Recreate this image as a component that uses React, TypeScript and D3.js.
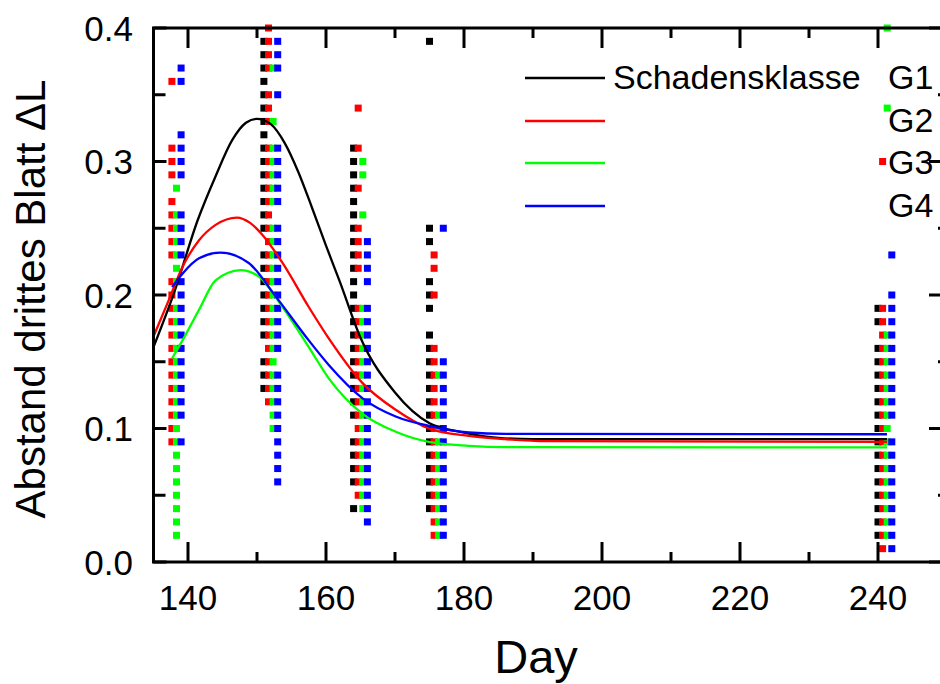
import React from "react";
import * as d3 from "d3";

// ---- data ----
const groupNames = ["G1", "G2", "G3", "G4"];
const groupColors = ["#000000", "#ff0000", "#00ff00", "#0000ff"];
const measureDays = [138, 152, 165, 176, 241];
const groupDayOffsets = [-1, -1 / 3, 1 / 3, 1];

const g1Values = [
  [],
  [0.39, 0.38, 0.37, 0.36, 0.35, 0.34, 0.33, 0.32, 0.31, 0.30, 0.29, 0.28, 0.27, 0.26, 0.25, 0.23, 0.22, 0.21, 0.20, 0.19, 0.18, 0.17, 0.15, 0.14, 0.13],
  [0.31, 0.30, 0.29, 0.28, 0.27, 0.26, 0.25, 0.24, 0.23, 0.22, 0.21, 0.20, 0.19, 0.18, 0.17, 0.16, 0.15, 0.14, 0.13, 0.12, 0.11, 0.09, 0.08, 0.07, 0.06, 0.04],
  [0.39, 0.25, 0.24, 0.21, 0.20, 0.19, 0.17, 0.16, 0.15, 0.14, 0.13, 0.12, 0.11, 0.10, 0.09, 0.08, 0.07, 0.06, 0.05, 0.04],
  [0.19, 0.18, 0.16, 0.15, 0.14, 0.13, 0.12, 0.11, 0.10, 0.09, 0.08, 0.07, 0.06, 0.05, 0.04, 0.03, 0.02],
];
const g2Values = [
  [0.36, 0.31, 0.30, 0.29, 0.27, 0.26, 0.25, 0.24, 0.23, 0.21, 0.20, 0.19, 0.18, 0.17, 0.16, 0.15, 0.14, 0.13, 0.12, 0.11, 0.10, 0.09],
  [0.40, 0.39, 0.38, 0.37, 0.35, 0.34, 0.33, 0.31, 0.30, 0.29, 0.28, 0.27, 0.26, 0.25, 0.24, 0.23, 0.22, 0.21, 0.20, 0.19, 0.18, 0.17, 0.16, 0.15, 0.14, 0.13, 0.12],
  [0.34, 0.31, 0.28, 0.25, 0.24, 0.23, 0.22, 0.19, 0.18, 0.17, 0.16, 0.15, 0.14, 0.13, 0.12, 0.11, 0.10, 0.09, 0.08, 0.07, 0.06, 0.05],
  [0.23, 0.22, 0.20, 0.16, 0.15, 0.14, 0.13, 0.12, 0.11, 0.10, 0.09, 0.08, 0.07, 0.06, 0.05, 0.04, 0.03, 0.02],
  [0.30, 0.19, 0.18, 0.17, 0.16, 0.15, 0.14, 0.13, 0.12, 0.11, 0.10, 0.09, 0.08, 0.07, 0.06, 0.05, 0.04, 0.03, 0.02, 0.01],
];
const g3Values = [
  [0.28, 0.26, 0.25, 0.24, 0.23, 0.22, 0.21, 0.19, 0.18, 0.17, 0.16, 0.15, 0.14, 0.13, 0.12, 0.11, 0.10, 0.09, 0.08, 0.07, 0.06, 0.05, 0.04, 0.03, 0.02],
  [0.37, 0.33, 0.31, 0.30, 0.29, 0.28, 0.27, 0.25, 0.24, 0.23, 0.22, 0.21, 0.20, 0.19, 0.18, 0.17, 0.16, 0.15, 0.14, 0.13, 0.12, 0.11, 0.10],
  [0.30, 0.29, 0.26, 0.19, 0.18, 0.17, 0.16, 0.15, 0.14, 0.13, 0.12, 0.11, 0.10, 0.09, 0.08, 0.07, 0.06, 0.05, 0.04],
  [0.14, 0.11, 0.10, 0.09, 0.08, 0.07, 0.06, 0.05, 0.04, 0.03, 0.02],
  [0.40, 0.34, 0.17, 0.16, 0.15, 0.14, 0.13, 0.12, 0.11, 0.10, 0.09, 0.08, 0.07, 0.06, 0.05, 0.04, 0.03, 0.02],
];
const g4Values = [
  [0.37, 0.36, 0.32, 0.31, 0.30, 0.29, 0.26, 0.25, 0.24, 0.23, 0.21, 0.20, 0.19, 0.18, 0.17, 0.16, 0.15, 0.14, 0.13, 0.12, 0.11, 0.09],
  [0.39, 0.38, 0.37, 0.35, 0.31, 0.30, 0.29, 0.28, 0.27, 0.25, 0.24, 0.23, 0.22, 0.21, 0.20, 0.19, 0.18, 0.17, 0.16, 0.14, 0.13, 0.12, 0.11, 0.10, 0.09, 0.08, 0.07, 0.06],
  [0.24, 0.23, 0.22, 0.21, 0.19, 0.18, 0.17, 0.16, 0.15, 0.14, 0.13, 0.12, 0.11, 0.10, 0.09, 0.08, 0.07, 0.06, 0.05, 0.04, 0.03],
  [0.25, 0.15, 0.14, 0.13, 0.12, 0.11, 0.10, 0.09, 0.08, 0.07, 0.06, 0.05, 0.04, 0.03, 0.02],
  [0.23, 0.20, 0.19, 0.18, 0.17, 0.16, 0.15, 0.14, 0.13, 0.12, 0.11, 0.09, 0.08, 0.07, 0.06, 0.05, 0.04, 0.03, 0.02, 0.01],
];

// fitted curves as [day, value]
const fitG1 = [[135, 0.161], [138, 0.202], [141.4, 0.256], [144, 0.289], [146.4, 0.316], [148.4, 0.329], [150, 0.332], [152, 0.328], [154, 0.314], [156, 0.292], [158, 0.265], [160, 0.237], [162, 0.21], [165, 0.168], [170, 0.127], [175, 0.104], [180, 0.097], [185, 0.093], [190, 0.092], [241.3, 0.092]];
const fitG2 = [[135, 0.169], [137.2, 0.196], [139.2, 0.221], [141.6, 0.241], [144, 0.2525], [147.1, 0.258], [149, 0.254], [150.8, 0.245], [153.7, 0.224], [157.5, 0.191], [160.4, 0.1675], [165.3, 0.134], [170.1, 0.114], [174.9, 0.1], [180.7, 0.0944], [186, 0.092], [192, 0.0905], [241.3, 0.09]];
const fitG3 = [[137.7, 0.1526], [139.2, 0.166], [141.6, 0.189], [144, 0.211], [147.6, 0.2187], [150.3, 0.2137], [153.7, 0.191], [157.5, 0.161], [160.4, 0.1376], [165.3, 0.111], [170.1, 0.0976], [174.9, 0.09], [180.7, 0.087], [186, 0.086], [241.3, 0.0859]];
const fitG4 = [[137.7, 0.206], [139.2, 0.216], [141.6, 0.2275], [144.7, 0.2317], [148.8, 0.224], [152.7, 0.199], [157.5, 0.166], [160.4, 0.1476], [165.3, 0.1226], [170.1, 0.109], [174.9, 0.102], [180.7, 0.097], [186, 0.096], [241.3, 0.0957]];

const xTicks = [140, 160, 180, 200, 220, 240];
const xMinorTicks = [150, 170, 190, 210, 230];
const yTicks = [0, 0.1, 0.2, 0.3, 0.4];
const yTickLabels = ["0.0", "0.1", "0.2", "0.3", "0.4"];
const yMinorTicks = [0.05, 0.15, 0.25, 0.35];
const xTitle = "Day";
const yTitle = "Abstand drittes Blatt \u0394L";
const legendTitle = "Schadensklasse";

const W = 940;
const H = 684;
const FONT = "'Liberation Sans', Arial, Helvetica, sans-serif";

export default function App() {
  const x = d3.scaleLinear().domain([135, 250]).range([153.5, 947]);
  const y = d3.scaleLinear().domain([0, 0.4]).range([562, 28]);
  const left = x(135), right = x(250), top = y(0.4), bottom = y(0);

  const allValues = [g1Values, g2Values, g3Values, g4Values];
  const fits = [fitG1, fitG2, fitG3, fitG4];
  const line = d3
    .line<number[]>()
    .x((d) => x(d[0]))
    .y((d) => y(d[1]))
    .curve(d3.curveMonotoneX);

  const sq = 7;
  const squares: any[] = [];
  allValues.forEach((cols, gi) => {
    cols.forEach((vals, ci) => {
      const day = measureDays[ci] + groupDayOffsets[gi];
      vals.forEach((v, k) => {
        squares.push(
          <rect
            key={`s${gi}-${ci}-${k}`}
            x={x(day) - sq / 2}
            y={y(v) - sq / 2}
            width={sq}
            height={sq}
            fill={groupColors[gi]}
          />
        );
      });
    });
  });

  const legendY = [78, 121, 163, 206];

  return (
    <div style={{ position: "absolute", left: 0, top: 0 }}>
      <svg width={W} height={H} style={{ display: "block", background: "#fff" }}>
        <g>{squares}</g>
        <g fill="none" strokeWidth={2.3}>
          {fits.map((f, i) => (
            <path key={i} d={line(f as any) || ""} stroke={groupColors[i]} />
          ))}
        </g>
        {/* frame */}
        <rect x={left} y={top} width={right - left} height={bottom - top} fill="none" stroke="#000" strokeWidth={3} />
        {/* ticks */}
        <g stroke="#000" strokeWidth={3}>
          {xTicks.map((t) => (
            <g key={`xt${t}`}>
              <line x1={x(t)} x2={x(t)} y1={bottom} y2={bottom - 20} />
              <line x1={x(t)} x2={x(t)} y1={top} y2={top + 20} />
            </g>
          ))}
          {xMinorTicks.map((t) => (
            <g key={`xm${t}`}>
              <line x1={x(t)} x2={x(t)} y1={bottom} y2={bottom - 10} />
              <line x1={x(t)} x2={x(t)} y1={top} y2={top + 10} />
            </g>
          ))}
          {yTicks.map((t) => (
            <g key={`yt${t}`}>
              <line x1={left} x2={left + 13} y1={y(t)} y2={y(t)} />
              <line x1={right} x2={right - 18} y1={y(t)} y2={y(t)} />
            </g>
          ))}
          {yMinorTicks.map((t) => (
            <g key={`ym${t}`}>
              <line x1={left} x2={left + 12} y1={y(t)} y2={y(t)} />
              <line x1={right} x2={right - 9} y1={y(t)} y2={y(t)} />
            </g>
          ))}
        </g>
        {/* tick labels */}
        <g fontFamily={FONT} fontSize={35} fill="#000">
          {xTicks.map((t) => (
            <text key={`xl${t}`} x={x(t)} y={610} textAnchor="middle">
              {t}
            </text>
          ))}
          {yTicks.map((t, i) => (
            <text key={`yl${t}`} x={133} y={y(t)} dy="0.36em" textAnchor="end">
              {yTickLabels[i]}
            </text>
          ))}
        </g>
        <text x={536} y={673} textAnchor="middle" fontFamily={FONT} fontSize={47}>
          {xTitle}
        </text>
        <text
          transform={`translate(45, 299) rotate(-90)`}
          textAnchor="middle"
          fontFamily={FONT}
          fontSize={42}
        >
          {yTitle}
        </text>
        {/* legend */}
        <g>
          {groupNames.map((g, i) => (
            <g key={g}>
              <line x1={525} x2={605} y1={legendY[i]} y2={legendY[i]} stroke={groupColors[i]} strokeWidth={2.3} />
              <text x={888} y={legendY[i] + 11} fontFamily={FONT} fontSize={34}>
                {g}
              </text>
            </g>
          ))}
          <text x={613} y={legendY[0] + 11} fontFamily={FONT} fontSize={34}>
            {legendTitle}
          </text>
        </g>
      </svg>
    </div>
  );
}
